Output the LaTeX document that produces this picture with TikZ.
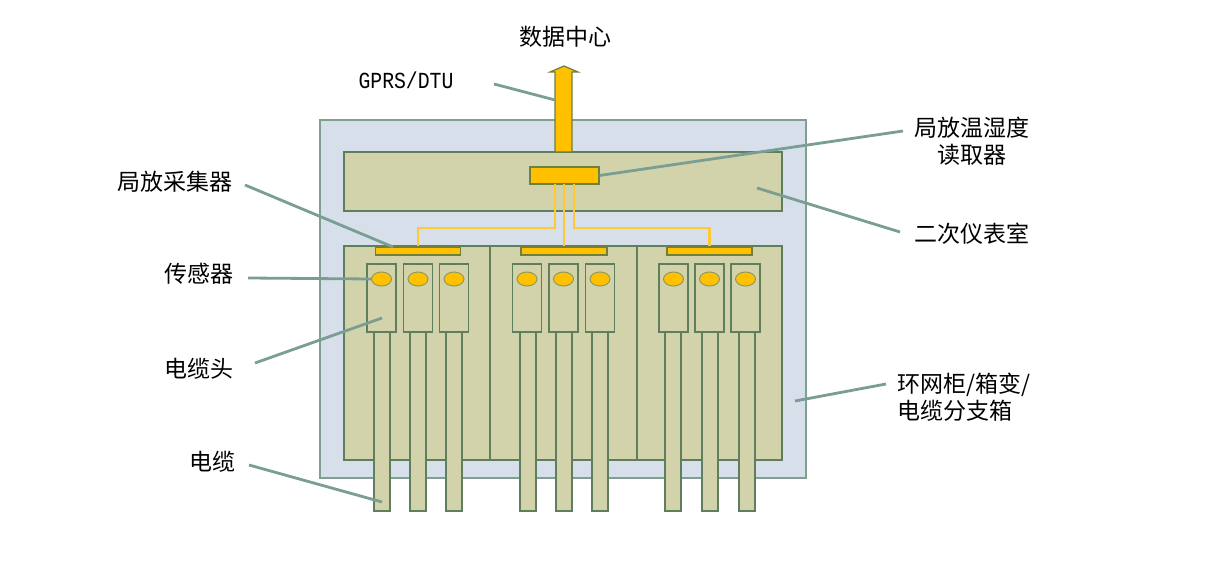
\documentclass[tikz,border=0pt]{standalone}
\usepackage{fontspec}
\newfontfamily\cjk{Noto Sans CJK SC}
\newfontfamily\monof{Liberation Mono}
\usetikzlibrary{shapes.geometric}
\definecolor{boxblue}{HTML}{D7DFEA}
\definecolor{boxblueedge}{HTML}{7F9F8F}
\definecolor{panelfill}{HTML}{D3D3AB}
\definecolor{paneledge}{HTML}{5E7E5E}
\definecolor{gold}{HTML}{FFC000}
\definecolor{goldedge}{HTML}{6F7F3F}
\definecolor{leadercol}{HTML}{7A9E92}
\definecolor{wirecol}{HTML}{FFC933}
\tikzset{
  outerbox/.style={draw=boxblueedge, fill=boxblue, line width=0.7pt, inner sep=0pt},
  panel/.style={draw=paneledge, fill=panelfill, line width=0.7pt, inner sep=0pt},
  goldbox/.style={draw=goldedge, fill=gold, line width=0.6pt, inner sep=0pt},
  sensor/.style={ellipse, draw=goldedge!80, fill=gold, line width=0.5pt, inner sep=0pt, minimum width=10pt, minimum height=7pt},
  wire/.style={draw=wirecol, line width=1.1pt},
  leader/.style={draw=leadercol, line width=1.4pt},
  lbl/.style={font=\cjk\fontsize{11.5pt}{14pt}\selectfont, inner sep=0pt, text=black},
}
\begin{document}
\begin{tikzpicture}[x=0.5pt, y=-0.5pt]
\useasboundingbox (0,0) rectangle (1214,571);
% outer cabinet
\node[outerbox, minimum width=243pt, minimum height=179pt] (outer) at (563,299) {};
% top panel
\node[panel, minimum width=219pt, minimum height=29.5pt] (room) at (563,181.5) {};
% lower panels
\node[panel, minimum width=73pt, minimum height=107pt] (p1) at (417,353) {};
\node[panel, minimum width=73.5pt, minimum height=107pt] (p2) at (563.5,353) {};
\node[panel, minimum width=72.5pt, minimum height=107pt] (p3) at (709.5,353) {};
% collectors
\node[goldbox, minimum width=42.5pt, minimum height=4pt] (c1) at (418,251) {};
\node[goldbox, minimum width=43pt, minimum height=4pt] (c2) at (564,251) {};
\node[goldbox, minimum width=42.5pt, minimum height=4pt] (c3) at (709.5,251) {};
% reader
\node[goldbox, minimum width=34.5pt, minimum height=8.5pt] (reader) at (564.5,175.5) {};
% wires
\draw[wire] (555,184) -- (555,228) -- (418,228) -- (c1.north);
\draw[wire] (564,184) -- (c2.north);
\draw[wire] (574,184) -- (574,228) -- (709.5,228) -- (c3.north);
% cables
\foreach \n/\x in {1/382,2/418,3/454,4/528,5/564,6/600,7/673,8/710,9/747}{
  \node[panel, minimum width=8pt, minimum height=89.5pt] (cable\n) at (\x,421.5) {};
}
% cable heads and sensors
\foreach \n/\x in {1/381.5,2/418,3/454,4/527,5/563.5,6/600,7/673.5,8/709.5,9/745.5}{
  \node[panel, minimum width=14.5pt, minimum height=34pt] (head\n) at (\x,298) {};
  \node[sensor] (sen\n) at (\x,279) {};
}
% arrow to data center
\draw[draw=goldedge, fill=gold, line width=0.6pt]
  (555,152) -- (555,72) -- (550,72) -- (564,66) -- (578,72) -- (572,72) -- (572,152) -- cycle;
\coordinate (arrowtop) at (564,66);
% labels
\node[lbl] (dc) at (565,37) {数据中心};
\node[font=\monof\fontsize{11.5pt}{13pt}\selectfont, inner sep=0pt, xscale=0.86] (gprs) at (406,80) {GPRS/DTU};
\node[lbl, align=center] (readerlbl) at (972,141) {局放温湿度\\[-0.5pt]读取器};
\node[lbl] (roomlbl) at (972,234) {二次仪表室};
\node[lbl] (collbl) at (175,182) {局放采集器};
\node[lbl] (senlbl) at (199,274) {传感器};
\node[lbl] (headlbl) at (199,369) {电缆头};
\node[lbl] (cablbl) at (212,462) {电缆};
\node[lbl, align=left, anchor=west] (cablbl2) at (897,397) {环网柜/箱变/\\[-0.5pt]电缆分支箱};
% leader lines
\coordinate (g1) at (494,84); \coordinate (g2) at (555,100);
\draw[leader] (g1) -- (g2);
\coordinate (r1) at (903,131);
\draw[leader] (reader.east) -- (r1);
\coordinate (m1) at (757,188); \coordinate (m2) at (900,232);
\draw[leader] (m1) -- (m2);
\coordinate (k1) at (245,185); \coordinate (k2) at (393,247);
\draw[leader] (k1) -- (k2);
\coordinate (s1) at (248,278);
\draw[leader] (s1) -- (sen1.west);
\coordinate (h1) at (255,363); \coordinate (h2) at (382,318);
\draw[leader] (h1) -- (h2);
\coordinate (e1) at (249,465); \coordinate (e2) at (382,502);
\draw[leader] (e1) -- (e2);
\coordinate (o1) at (795,401); \coordinate (o2) at (886,384);
\draw[leader] (o1) -- (o2);
\end{tikzpicture}
\end{document}
